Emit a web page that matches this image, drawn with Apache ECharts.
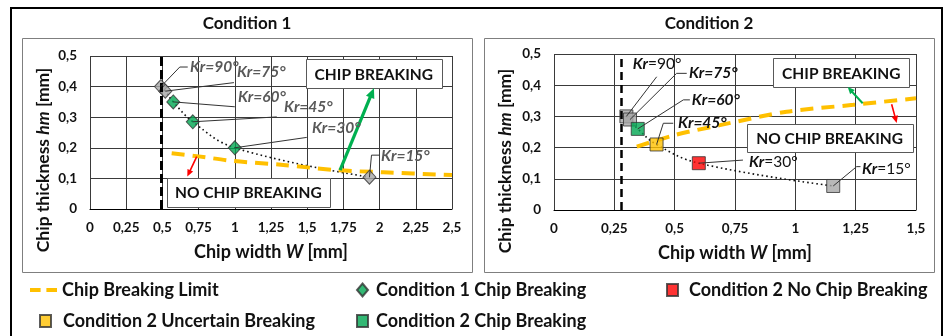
<!DOCTYPE html>
<html><head><meta charset="utf-8">
<script src="https://cdn.jsdelivr.net/npm/echarts@6/dist/echarts.min.js"></script>
<style>html,body{margin:0;padding:0;background:#fff}#c{width:943px;height:336px}</style>
</head><body><div id="c"></div>
<script>
// ---------- data ----------
const krLabels = ['90°','75°','60°','45°','30°','15°'];
const c1W = [0.49, 0.52, 0.575, 0.71, 1.0, 1.93];
const c1H = [0.40, 0.385, 0.35, 0.285, 0.20, 0.104];
const c1Class = ['gray','gray','break','break','break','gray'];
const c2W = [0.30, 0.315, 0.347, 0.425, 0.60, 1.157];
const c2H = [0.30, 0.29, 0.26, 0.21, 0.15, 0.077];
const c2Class = ['gray','gray','break','uncertain','nobreak','gray'];
const limit1W = [0.564, 0.75, 0.99, 1.335, 1.70, 2.025, 2.5];
const limit1H = [0.182, 0.172, 0.157, 0.144, 0.127, 0.120, 0.111];
const limit2W = [0.343, 0.5, 0.688, 0.964, 1.24, 1.5];
const limit2H = [0.203, 0.24, 0.272, 0.315, 0.337, 0.358];
const minW1 = 0.495, minW2 = 0.285;
const xTicks1 = ['0','0,25','0,5','0,75','1','1,25','1,5','1,75','2','2,25','2,5'];
const xTicks2 = ['0','0,25','0,5','0,75','1','1,25','1,5'];
const yTicks = ['0','0,1','0,2','0,3','0,4','0,5'];

// ---------- helpers ----------
const FONT = 'Lato';
const pairs = (xs, ys) => xs.map((x, i) => [x, ys[i]]);
const pick = (xs, ys, cls, c) => xs.map((x, i) => [x, ys[i]]).filter((p, i) => cls[i] === c);
const GRID_C = '#3a3a3a';
function xAxis(g, max, ticks) {
  return {type:'value', gridIndex:g, min:0, max:max, interval:0.25,
    axisLine:{show:true, lineStyle:{color:'#000', width:1}}, axisTick:{show:false},
    splitLine:{show:true, lineStyle:{color:GRID_C, width:1}},
    axisLabel:{margin:12, fontFamily:FONT, fontWeight:'bold', fontSize:13.5, color:'#111',
      formatter:v => ticks[Math.round(v/0.25)]}};
}
function yAxis(g) {
  return {type:'value', gridIndex:g, min:0, max:0.5, interval:0.1,
    axisLine:{show:false}, axisTick:{show:false},
    splitLine:{show:true, lineStyle:{color:GRID_C, width:1}},
    axisLabel:{margin:13, fontFamily:FONT, fontWeight:'bold', fontSize:13.5, color:'#111',
      formatter:v => yTicks[Math.round(v/0.1)]}};
}
const mk = (color) => ({color:color, borderColor:'#333', borderWidth:1});

const chart = echarts.init(document.getElementById('c'), null, {renderer:'canvas'});
const legendText = {fontFamily:FONT, fontWeight:'bold', fontSize:18, color:'#111'};
const lt = (pad) => Object.assign({padding:[0,0,0,pad]}, legendText);
const option = {
  animation:false,
  backgroundColor:'#fff',
  grid:[{left:90, top:56, width:362, height:153}, {left:554, top:54, width:362, height:156}],
  xAxis:[xAxis(0, 2.5, xTicks1), xAxis(1, 1.5, xTicks2)],
  yAxis:[yAxis(0), yAxis(1)],
  legend:[
    {data:[{name:'Chip Breaking Limit', icon:'path://M0,0H11V4H0Z M17,0H28V4H17Z', itemStyle:{color:'#FFC000', borderWidth:0}}],
      left:30, top:281, padding:0, itemWidth:27, itemHeight:4, selectedMode:false, textStyle:lt(0)},
    {data:['Condition 1 Chip Breaking'], left:356, top:281, padding:0, itemWidth:11, itemHeight:13, selectedMode:false, textStyle:lt(3)},
    {data:['Condition 2 No Chip Breaking'], left:666, top:281, padding:0, itemWidth:11, itemHeight:12, selectedMode:false, textStyle:lt(6)},
    {data:['Condition 2 Uncertain Breaking'], left:39, top:312, padding:0, itemWidth:11, itemHeight:12, selectedMode:false, textStyle:lt(7)},
    {data:['Condition 2 Chip Breaking'], left:356, top:312, padding:0, itemWidth:11, itemHeight:12, selectedMode:false, textStyle:lt(3)}
  ],
  series:[
    {type:'line', xAxisIndex:0, yAxisIndex:0, data:pairs(c1W, c1H), smooth:0.4, symbol:'none', z:2,
      lineStyle:{color:'#111', width:1.6, type:[1.6,3]},
      markLine:{silent:true, symbol:'none', label:{show:false}, lineStyle:{color:'#000', width:3, type:[9,4]}, data:[{xAxis:minW1}]}},
    {type:'line', xAxisIndex:1, yAxisIndex:1, data:pairs(c2W, c2H), smooth:0.4, symbol:'none', z:2,
      lineStyle:{color:'#111', width:1.6, type:[1.6,3]},
      markLine:{silent:true, symbol:'none', label:{show:false}, lineStyle:{color:'#000', width:2.5, type:[8,5]}, data:[{xAxis:minW2}]}},
    {name:'Chip Breaking Limit', type:'line', xAxisIndex:0, yAxisIndex:0, data:pairs(limit1W, limit1H), smooth:0.3, symbol:'none', z:3,
      itemStyle:{color:'#FFC000'}, lineStyle:{color:'#FFC000', width:4, type:[13,8]}},
    {name:'Chip Breaking Limit', type:'line', xAxisIndex:1, yAxisIndex:1, data:pairs(limit2W, limit2H), smooth:0.3, symbol:'none', z:3,
      itemStyle:{color:'#FFC000'}, lineStyle:{color:'#FFC000', width:4, type:[13,8]}},
    {name:'Cond1 other', type:'scatter', xAxisIndex:0, yAxisIndex:0, symbol:'diamond', symbolSize:[13,14], z:4,
      data:pick(c1W, c1H, c1Class, 'gray'), itemStyle:mk('#A6A6A6')},
    {name:'Condition 1 Chip Breaking', type:'scatter', xAxisIndex:0, yAxisIndex:0, symbol:'diamond', symbolSize:[13,14], z:4,
      data:pick(c1W, c1H, c1Class, 'break'), itemStyle:mk('#00A651')},
    {name:'Cond2 other', type:'scatter', xAxisIndex:1, yAxisIndex:1, symbol:'rect', symbolSize:13, z:4,
      data:pick(c2W, c2H, c2Class, 'gray'), itemStyle:mk('#A6A6A6')},
    {name:'Condition 2 Chip Breaking', type:'scatter', xAxisIndex:1, yAxisIndex:1, symbol:'rect', symbolSize:13, z:4,
      data:pick(c2W, c2H, c2Class, 'break'), itemStyle:mk('#00A651')},
    {name:'Condition 2 Uncertain Breaking', type:'scatter', xAxisIndex:1, yAxisIndex:1, symbol:'rect', symbolSize:13, z:4,
      data:pick(c2W, c2H, c2Class, 'uncertain'), itemStyle:mk('#FFC000')},
    {name:'Condition 2 No Chip Breaking', type:'scatter', xAxisIndex:1, yAxisIndex:1, symbol:'rect', symbolSize:13, z:4,
      data:pick(c2W, c2H, c2Class, 'nobreak'), itemStyle:mk('#FF0000')}
  ]
};
chart.setOption(option);

// ---------- annotations (data coordinates) ----------
const ann = [
  {g:0, W:c1W, H:c1H, color:'#595959', vItalic:[true,true,true,true,true,true], items:[
    {pts:[[0.62,0.464],[0.675,0.464]], t:[0.69,0.465]},
    {pts:[[0.994,0.413]], t:[1.015,0.448]},
    {pts:[[1.0,0.334]], t:[1.022,0.367]},
    {pts:[[1.29,0.301]], t:[1.34,0.333]},
    {pts:[[1.497,0.234]], t:[1.533,0.265]},
    {pts:[[1.944,0.176],[2.0,0.176]], t:[2.01,0.172]}]},
  {g:1, W:c2W, H:c2H, color:'#111', vItalic:[false,true,true,true,false,false], items:[
    {pts:[[0.4255,0.427]], t:[0.326,0.468]},
    {pts:[[0.508,0.438],[0.55,0.438]], t:[0.559,0.439]},
    {pts:[[0.536,0.353],[0.563,0.353]], t:[0.571,0.353]},
    {pts:[[0.453,0.278],[0.494,0.278]], t:[0.514,0.279]},
    {pts:[[0.783,0.16]], t:[0.808,0.154]},
    {pts:[[1.254,0.139],[1.27,0.139]], t:[1.276,0.131]}]}
];
const boxes = [
  {g:0, x:[1.49,2.43], y:[0.395,0.49], text:'CHIP BREAKING'},
  {g:0, x:[0.53,1.657], y:[0.0075,0.102], text:'NO CHIP BREAKING'},
  {g:1, x:[0.909,1.472], y:[0.393,0.486], text:'CHIP BREAKING'},
  {g:1, x:[0.798,1.486], y:[0.187,0.276], text:'NO CHIP BREAKING'}
];
const arrows = [
  {g:0, a:[1.727,0.127], b:[1.961,0.395], color:'#00B050', w:3.2, head:10},
  {g:0, a:[0.737,0.171], b:[0.672,0.106], color:'#FF0000', w:1.6, head:7},
  {g:1, a:[1.279,0.342], b:[1.217,0.394], color:'#00B050', w:2, head:7},
  {g:1, a:[1.399,0.339], b:[1.42,0.279], color:'#FF0000', w:1.6, head:7}
];
const P = (g, p) => chart.convertToPixel({xAxisIndex:g, yAxisIndex:g}, p);

const gr = [];
// figure frame
gr.push({type:'polyline', shape:{points:[[11,337],[11,8],[942,8],[942,337]]}, style:{stroke:'#000', lineWidth:2, fill:null}, z:1});
gr.push({type:'rect', shape:{x:22.5, y:38.5, width:450, height:234}, style:{stroke:'#7f7f7f', lineWidth:1, fill:null}, z:1});
gr.push({type:'rect', shape:{x:484.5, y:38.5, width:450, height:234}, style:{stroke:'#7f7f7f', lineWidth:1, fill:null}, z:1});
// titles and axis names
const tf = 'bold 17px ' + FONT;
gr.push({type:'text', x:247, y:24, style:{text:'Condition 1', font:tf, fill:'#111', textAlign:'center', textVerticalAlign:'middle'}, z:10});
gr.push({type:'text', x:709, y:24, style:{text:'Condition 2', font:tf, fill:'#111', textAlign:'center', textVerticalAlign:'middle'}, z:10});
const nameRich = (a, b, c, fs) => ({text:'{n|' + a + '}{i|' + b + '}{n|' + c + '}', textAlign:'center', textVerticalAlign:'middle',
  rich:{n:{fontFamily:FONT, fontWeight:'bold', fontSize:fs, fill:'#111'}, i:{fontFamily:FONT, fontWeight:'bold', fontStyle:'italic', fontSize:fs, fill:'#111'}}});
gr.push({type:'text', x:271, y:252, style:nameRich('Chip width ', 'W', ' [mm]', 18), z:10});
gr.push({type:'text', x:735, y:253, style:nameRich('Chip width ', 'W', ' [mm]', 18), z:10});
gr.push({type:'text', x:43, y:160, rotation:Math.PI/2, style:nameRich('Chip thickness ', 'hm', ' [mm]', 17.5), z:10});
gr.push({type:'text', x:505, y:161, rotation:Math.PI/2, style:nameRich('Chip thickness ', 'hm', ' [mm]', 17.5), z:10});

// Kr labels + leader lines
ann.forEach(A => {
  A.items.forEach((it, i) => {
    const pts = [P(A.g, [A.W[i], A.H[i]])].concat(it.pts.map(p => P(A.g, p)));
    gr.push({type:'polyline', shape:{points:pts}, style:{stroke:'#333', lineWidth:1, fill:null}, z:20});
    const t = P(A.g, it.t);
    gr.push({type:'text', x:t[0], y:t[1], z:21, style:{
      text:'{k|Kr}{v|=' + krLabels[i] + '}', textAlign:'left', textVerticalAlign:'middle',
      rich:{k:{fontFamily:FONT, fontWeight:'bold', fontStyle:'italic', fontSize:15.5, fill:A.color},
            v:{fontFamily:FONT, fontWeight:A.vItalic[i] ? 'bold' : 'normal', fontStyle:A.vItalic[i] ? 'italic' : 'normal', fontSize:15.5, fill:A.color}}}});
  });
});
// boxes
boxes.forEach(B => {
  const p1 = P(B.g, [B.x[0], B.y[1]]), p2 = P(B.g, [B.x[1], B.y[0]]);
  gr.push({type:'rect', shape:{x:Math.round(p1[0]) + 0.5, y:Math.round(p1[1]) + 0.5, width:Math.round(p2[0] - p1[0]), height:Math.round(p2[1] - p1[1])},
    style:{fill:'#fff', stroke:'#595959', lineWidth:1}, z:15});
  gr.push({type:'text', x:(p1[0] + p2[0]) / 2, y:(p1[1] + p2[1]) / 2 + 1, z:16,
    style:{text:B.text, font:'bold 15.5px ' + FONT, fill:'#111', textAlign:'center', textVerticalAlign:'middle'}});
});
// arrows
arrows.forEach(R => {
  const a = P(R.g, R.a), b = P(R.g, R.b);
  const dx = b[0] - a[0], dy = b[1] - a[1], L = Math.hypot(dx, dy), ux = dx / L, uy = dy / L;
  const h = R.head, bx = b[0] - ux * h, by = b[1] - uy * h, nx = -uy, ny = ux, hw = h * 0.45;
  gr.push({type:'line', shape:{x1:a[0], y1:a[1], x2:bx + ux, y2:by + uy}, style:{stroke:R.color, lineWidth:R.w}, z:18});
  gr.push({type:'polygon', shape:{points:[[b[0], b[1]], [bx + nx * hw, by + ny * hw], [bx - nx * hw, by - ny * hw]]}, style:{fill:R.color}, z:18});
});
chart.setOption({graphic:gr});
</script></body></html>
